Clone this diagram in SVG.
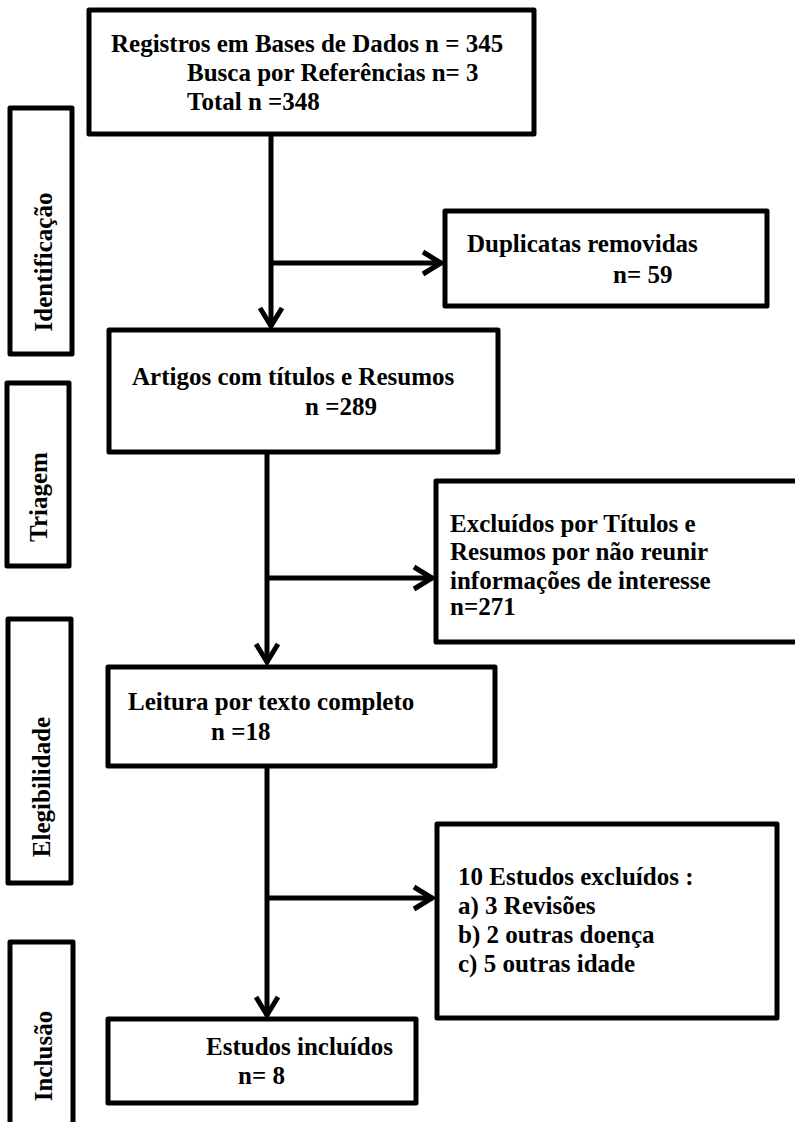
<svg xmlns="http://www.w3.org/2000/svg" width="795" height="1122" viewBox="0 0 795 1122">
<defs>
<style>
.box{fill:#fff;stroke:#000;stroke-width:5;stroke-linejoin:round}
.t{font-family:"Liberation Serif","Times New Roman",serif;font-weight:bold;font-size:25px;fill:#000}
.c{fill:none;stroke:#000;stroke-width:5}
.ah{fill:none;stroke:#000;stroke-width:5;stroke-linejoin:miter;stroke-linecap:butt}
</style>
<marker id="arr" viewBox="-24 -14 28 28" refX="0" refY="0" markerWidth="28" markerHeight="28" markerUnits="userSpaceOnUse" orient="auto">
<path class="ah" d="M-19,-11 L-1,0 L-19,11"/>
</marker>
</defs>
<rect width="795" height="1122" fill="#fff"/>
<g id="phase-identificacao">
<rect class="box" x="10" y="108" width="62" height="246"/>
<text class="t" transform="translate(52,262) rotate(-90)" text-anchor="middle">Identificação</text>
</g>
<g id="phase-triagem">
<rect class="box" x="7" y="383" width="62" height="183"/>
<text class="t" transform="translate(47,497) rotate(-90)" text-anchor="middle">Triagem</text>
</g>
<g id="phase-elegibilidade">
<rect class="box" x="8" y="619" width="63" height="264"/>
<text class="t" transform="translate(50,787) rotate(-90)" text-anchor="middle">Elegibilidade</text>
</g>
<g id="phase-inclusao">
<rect class="box" x="10" y="942" width="63" height="200"/>
<text class="t" transform="translate(52,1056) rotate(-90)" text-anchor="middle">Inclusão</text>
</g>
<g id="registros">
<rect class="box" x="89" y="10" width="445" height="124"/>
<text class="t" x="111" y="52">Registros em Bases de Dados n = 345</text>
<text class="t" x="187" y="81">Busca por Referências n= 3</text>
<text class="t" x="187" y="110">Total n =348</text>
</g>
<g id="duplicatas">
<rect class="box" x="445" y="211" width="322" height="95"/>
<text class="t" x="467" y="252">Duplicatas removidas</text>
<text class="t" x="613" y="283">n= 59</text>
</g>
<g id="artigos">
<rect class="box" x="109" y="330" width="389" height="122"/>
<text class="t" x="132" y="385">Artigos com títulos e Resumos</text>
<text class="t" x="305" y="415">n =289</text>
</g>
<g id="excluidos-titulos">
<rect class="box" x="436" y="481" width="372" height="161"/>
<text class="t" x="450" y="532">Excluídos por Títulos e</text>
<text class="t" x="450" y="560">Resumos por não reunir</text>
<text class="t" x="450" y="589">informações de interesse</text>
<text class="t" x="450" y="615">n=271</text>
</g>
<g id="leitura">
<rect class="box" x="108" y="667" width="387" height="99"/>
<text class="t" x="128" y="710">Leitura por texto completo</text>
<text class="t" x="211" y="740">n =18</text>
</g>
<g id="excluidos-estudos">
<rect class="box" x="437" y="824" width="340" height="194"/>
<text class="t" x="458" y="885">10 Estudos excluídos :</text>
<text class="t" x="458" y="914">a) 3 Revisões</text>
<text class="t" x="458" y="943">b) 2 outras doença</text>
<text class="t" x="458" y="972">c) 5 outras idade</text>
</g>
<g id="incluidos">
<rect class="box" x="108" y="1019" width="308" height="84"/>
<text class="t" x="206" y="1055">Estudos incluídos</text>
<text class="t" x="238" y="1084">n= 8</text>
</g>
<g id="connectors">
<path class="c" d="M271,134 V327" marker-end="url(#arr)"/>
<path class="c" d="M271,263 H442" marker-end="url(#arr)"/>
<path class="c" d="M267,452 V663" marker-end="url(#arr)"/>
<path class="c" d="M267,578 H433" marker-end="url(#arr)"/>
<path class="c" d="M267,766 V1016" marker-end="url(#arr)"/>
<path class="c" d="M267,898 H433" marker-end="url(#arr)"/>
</g>
</svg>
